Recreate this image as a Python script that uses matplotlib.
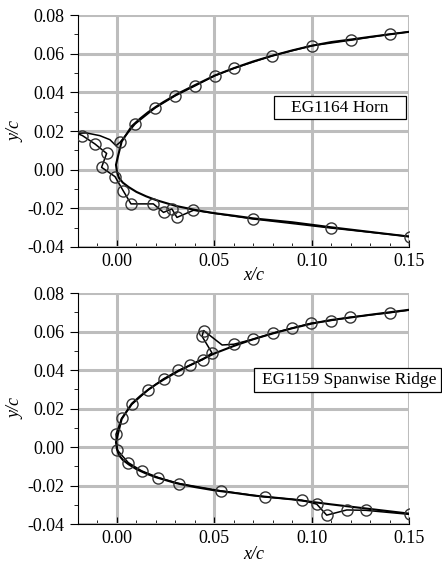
import matplotlib
matplotlib.use("Agg")
import matplotlib.pyplot as plt
from matplotlib.ticker import MultipleLocator
from matplotlib.patches import Rectangle

plt.rcParams['font.family'] = ['Liberation Serif', 'DejaVu Serif']

# clean airfoil contour (upper TE -> leading edge -> lower TE)
clean_x = [0.15, 0.14, 0.13, 0.12, 0.11, 0.10, 0.09, 0.08, 0.07, 0.06, 0.05, 0.04,
           0.0316, 0.0239, 0.02, 0.0161, 0.012, 0.0076, 0.0024, 0.0003, -0.0005,
           0.0, 0.001, 0.003, 0.006, 0.01, 0.015, 0.02, 0.03, 0.04, 0.05, 0.06,
           0.07, 0.08, 0.09, 0.10, 0.11, 0.12, 0.13, 0.14, 0.15]
clean_y = [0.0713, 0.0700, 0.0687, 0.0673, 0.0660, 0.0641, 0.0617, 0.0590, 0.0560,
           0.0525, 0.0486, 0.0437, 0.0395, 0.0350, 0.0325, 0.0298, 0.0265, 0.0225,
           0.0145, 0.0060, 0.0025, -0.0010, -0.0042, -0.0067, -0.0090, -0.0115,
           -0.0138, -0.0157, -0.0187, -0.0208, -0.0225, -0.0238, -0.0252, -0.0262,
           -0.0272, -0.0285, -0.0298, -0.0310, -0.0322, -0.0334, -0.0346]

# EG1164 horn ice shape
horn_x = [0.15, 0.1404, 0.1203, 0.10, 0.0797, 0.06, 0.0502, 0.0402, 0.0299, 0.0196,
          0.0093, 0.0015, -0.0005, -0.0036, -0.0088, -0.0157, -0.0205, -0.0177,
          -0.0113, -0.0053, -0.0079, -0.001, 0.0032, 0.0072, 0.0187, 0.0239, 0.0282,
          0.0308, 0.0393, 0.0699, 0.110, 0.1504]
horn_y = [0.0713, 0.0701, 0.0670, 0.0641, 0.0589, 0.0524, 0.0486, 0.0434, 0.0382,
          0.0319, 0.0236, 0.0141, 0.0124, 0.0155, 0.0176, 0.0190, 0.0188, 0.0176,
          0.0133, 0.0084, 0.0012, -0.0036, -0.0109, -0.0177, -0.0177, -0.0221,
          -0.0203, -0.0247, -0.0210, -0.0255, -0.0302, -0.0346]
horn_mx = [0.1404, 0.1203, 0.10, 0.0797, 0.06, 0.0502, 0.0402, 0.0299, 0.0196,
           0.0093, 0.0015, -0.0177, -0.0113, -0.0053, -0.0079, -0.001, 0.0032,
           0.0072, 0.0187, 0.0239, 0.0282, 0.0308, 0.0393, 0.0699, 0.110, 0.1504]
horn_my = [0.0701, 0.0670, 0.0641, 0.0589, 0.0524, 0.0486, 0.0434, 0.0382, 0.0319,
           0.0236, 0.0141, 0.0176, 0.0133, 0.0084, 0.0012, -0.0036, -0.0109,
           -0.0177, -0.0177, -0.0221, -0.0203, -0.0247, -0.0210, -0.0255, -0.0302,
           -0.0346]

# EG1159 spanwise ridge ice shape
ridge_x = [0.1507, 0.1404, 0.1197, 0.1098, 0.0996, 0.0897, 0.0799, 0.0699, 0.060,
           0.054, 0.0445, 0.0437, 0.0488, 0.044, 0.0376, 0.0316, 0.0239, 0.0161,
           0.0076, 0.0024, -0.0005, 0.0002, 0.0058, 0.0127, 0.0213, 0.032, 0.0535,
           0.0759, 0.0948, 0.1026, 0.1077, 0.118, 0.1278, 0.1503]
ridge_y = [0.0712, 0.0698, 0.0674, 0.0657, 0.0643, 0.0617, 0.0591, 0.0560, 0.0534,
           0.0530, 0.0605, 0.0575, 0.0489, 0.0454, 0.0425, 0.0398, 0.0354, 0.0298,
           0.0221, 0.0149, 0.0066, -0.0016, -0.0081, -0.0124, -0.0159, -0.0190,
           -0.0228, -0.0259, -0.0276, -0.0297, -0.0354, -0.0327, -0.0329, -0.0350]
ridge_mx = ridge_x[1:9] + ridge_x[10:-1] + [0.1503]
ridge_my = ridge_y[1:9] + ridge_y[10:-1] + [-0.0350]

fig = plt.figure(figsize=(4.42, 5.62), dpi=100)
ax1 = fig.add_axes([0.1765, 0.5605, 0.749, 0.4128])
ax2 = fig.add_axes([0.1765, 0.0676, 0.749, 0.411])

# label box: (x0, y0, x1, y1) in axes fraction, text position, x label height
panels = [(ax1, horn_x, horn_y, horn_mx, horn_my, "EG1164 Horn",
           (0.593, 0.550, 0.991, 0.651), (0.7915, 0.600), -0.085),
          (ax2, ridge_x, ridge_y, ridge_mx, ridge_my, "EG1159 Spanwise Ridge",
           (0.533, 0.573, 1.097, 0.674), (0.818, 0.623), -0.095)]

for ax, lx, ly, mx, my, label, box, tpos, xly in panels:
    ax.plot(clean_x, clean_y, color='black', lw=1.5, zorder=3)
    ax.plot(lx, ly, color='black', lw=1.1, zorder=3)
    ax.plot(mx, my, 'o', mfc='none', mec='#333333', ms=8, mew=1.0, zorder=4)
    ax.set_xlim(-0.02, 0.15)
    ax.set_ylim(-0.04, 0.08)
    ax.xaxis.set_minor_locator(MultipleLocator(0.01))
    ax.yaxis.set_major_locator(MultipleLocator(0.02))
    ax.yaxis.set_minor_locator(MultipleLocator(0.01))
    ax.set_xticks([0.0, 0.05, 0.10, 0.15])
    ax.xaxis.set_major_formatter(plt.FormatStrFormatter('%.2f'))
    ax.yaxis.set_major_formatter(plt.FormatStrFormatter('%.2f'))
    ax.grid(True, which='major', color='#bdbdbd', lw=2.2)
    ax.set_axisbelow(True)
    for s in ['top', 'right']:
        ax.spines[s].set_visible(False)
    ax.tick_params(axis='x', which='major', direction='in', length=5, labelsize=13, pad=4)
    ax.tick_params(axis='x', which='minor', direction='in', length=3)
    ax.tick_params(axis='y', which='major', direction='out', length=6, labelsize=13, pad=4)
    ax.tick_params(axis='y', which='minor', direction='out', length=3)
    ax.set_xlabel("x/c", fontstyle='italic', fontsize=13)
    ax.set_ylabel("y/c", fontstyle='italic', fontsize=13)
    ax.xaxis.set_label_coords(0.53, xly)
    ax.yaxis.set_label_coords(-0.163, 0.5)
    x0, y0, x1, y1 = box
    ax.add_patch(Rectangle((x0, y0), x1 - x0, y1 - y0, transform=ax.transAxes,
                           fc='white', ec='black', lw=0.9, clip_on=False, zorder=5))
    ax.text(tpos[0], tpos[1], label, transform=ax.transAxes, ha='center', va='center',
            fontsize=12.5, clip_on=False, zorder=6)

fig.savefig("out.png", dpi=100)
